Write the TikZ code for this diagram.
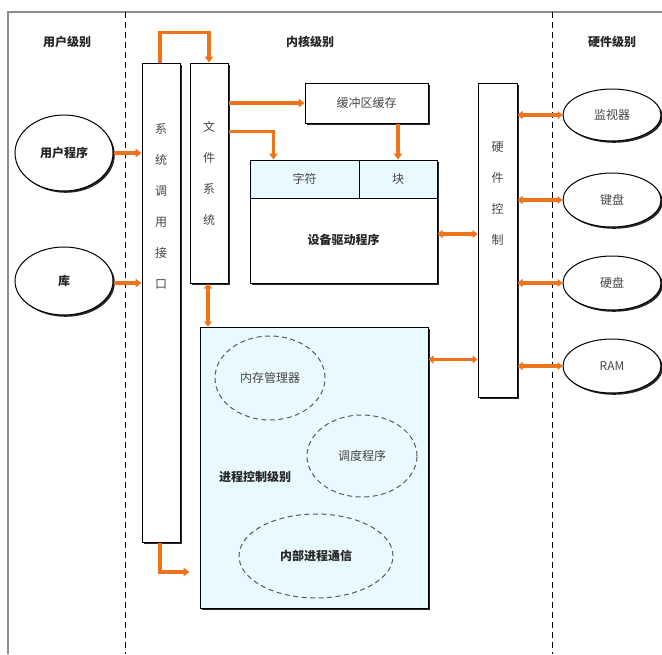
\documentclass[tikz,border=0pt]{standalone}
\usepackage{fontspec}
\setmainfont{Noto Sans CJK SC}
\usetikzlibrary{shapes.geometric,arrows.meta,shadows,calc}
\definecolor{arrc}{RGB}{238,116,28}
\definecolor{cyanbg}{RGB}{232,250,255}
\definecolor{txtg}{RGB}{70,70,70}
\begin{document}
\begin{tikzpicture}[x=1pt,y=-1pt,
  box/.style={draw=black,line width=1pt,fill=white,rectangle,inner sep=0pt,
    drop shadow={shadow xshift=2.2pt,shadow yshift=-2.2pt,fill=black!85,opacity=1}},
  oval/.style={draw=black,line width=1pt,fill=white,ellipse,inner sep=0pt,
    drop shadow={shadow xshift=1.8pt,shadow yshift=-1.8pt,fill=black!85,opacity=1}},
  doval/.style={draw=black!65,dashed,dash pattern=on 5pt off 3.5pt,line width=1pt,ellipse,inner sep=0pt},
  lbl/.style={font=\fontsize{12}{14}\selectfont,text=txtg},
  blbl/.style={font=\fontsize{12}{14}\selectfont\bfseries,text=black!85},
  vtxt/.style={font=\fontsize{12}{31}\selectfont,text=txtg,align=center,inner sep=0pt},
  arr/.style={draw=arrc,line width=3.2pt,-{Triangle[length=6pt,width=8.5pt]}},
  darr/.style={draw=arrc,line width=3.2pt,{Triangle[length=5pt,width=8pt]}-{Triangle[length=5pt,width=8pt]}},
  sep/.style={draw=black,line width=0.9pt,dash pattern=on 6pt off 4pt}
]
\useasboundingbox (0,0) rectangle (662,654);
\fill[white] (0,0) rectangle (662,654);
% frame
\draw[black!45,line width=1.2pt] (8,654) -- (8,12) -- (662,12);
% separators
\draw[sep] (125,12) -- (125,654);
\draw[sep] (552,12) -- (552,654);
% titles
\node[blbl] (t1) at (67,42) {用户级别};
\node[blbl] (t2) at (310,42) {内核级别};
\node[blbl] (t3) at (612,42) {硬件级别};
% user-level ellipses
\node[oval,minimum width=98pt,minimum height=76pt,blbl] (up) at (64,153) {用户程序};
\node[oval,minimum width=98pt,minimum height=68pt,blbl] (lib) at (64,281) {库};
% kernel boxes
\node[box,minimum width=38pt,minimum height=479pt] (sys) at (161,302.5) {};
\node[vtxt] (sysT) at (161,206.5) {系\\统\\调\\用\\接\\口};
\node[box,minimum width=38pt,minimum height=220pt,vtxt] (fs) at (209,173) {文\\件\\系\\统};
\node[box,minimum width=123pt,minimum height=40pt,lbl] (buf) at (366.5,103) {缓冲区缓存};
\node[box,minimum width=187pt,minimum height=123pt] (dev) at (343.5,221.5) {};
\node[draw=black,line width=1pt,fill=cyanbg,minimum width=109pt,minimum height=38pt,inner sep=0pt,lbl] (chr) at (304.5,179) {字符};
\node[draw=black,line width=1pt,fill=cyanbg,minimum width=78pt,minimum height=38pt,inner sep=0pt,lbl] (blk) at (398,179) {块};
\node[blbl] (devT) at (343.5,240) {设备驱动程序};
\node[box,minimum width=39pt,minimum height=314pt] (hw) at (497.5,240) {};
\node[vtxt] (hwT) at (497.5,193.5) {硬\\件\\控\\制};
\node[box,fill=cyanbg,minimum width=228pt,minimum height=281pt] (proc) at (314,467.5) {};
\node[doval,minimum width=110pt,minimum height=84pt,lbl] (mem) at (270,378) {内存管理器};
\node[doval,minimum width=110pt,minimum height=82pt,lbl] (sch) at (362,456) {调度程序};
\node[doval,minimum width=154pt,minimum height=84pt,blbl] (ipc) at (316,556) {内部进程通信};
\node[blbl] (procT) at (255,477) {进程控制级别};
% hardware ellipses
\node[oval,minimum width=98pt,minimum height=52pt,lbl] (mon) at (612,115) {监视器};
\node[oval,minimum width=98pt,minimum height=54pt,lbl] (kbd) at (612,200) {键盘};
\node[oval,minimum width=98pt,minimum height=54pt,lbl] (hd) at (612,283) {硬盘};
\node[oval,minimum width=98pt,minimum height=54pt,lbl] (ram) at (612,366) {RAM};
% helper coordinates
\coordinate (devR) at ($(dev.east)+(0,12.5)$);
\coordinate (procR) at ($(proc.north east)+(0,33)$);
\coordinate (fsR) at ($(fs.north east)+(0,69)$);
\coordinate (devIn) at ($(dev.north west)+(24,0)$);
\coordinate (procIn) at ($(proc.west)+(-10,104.5)$);
% arrows
\draw[arr] ([xshift=-1pt]sys.north) -- ++(0,-30) -| (fs.north);
\draw[arr] (up.east) -- (up.east -| sys.west);
\draw[arr] ([yshift=-2pt]lib.east) -- ([yshift=-2pt]lib.east -| sys.west);
\draw[arr] (fs.east |- buf.west) -- (buf.west);
\draw[arr] (fsR) -| (devIn);
\draw[arr] (blk.north |- buf.south) -- (blk.north);
\draw[darr] (devR) -- (devR -| hw.west);
\draw[darr] (mon.west -| hw.east) -- (mon.west);
\draw[darr] (kbd.west -| hw.east) -- (kbd.west);
\draw[darr] (hd.west -| hw.east) -- (hd.west);
\draw[darr] (ram.west -| hw.east) -- (ram.west);
\draw[darr] (procR) -- (procR -| hw.west);
\draw[darr] ([xshift=-1pt]fs.south) -- ([xshift=-1pt]fs.south |- proc.north);
\draw[arr] ([xshift=-1pt]sys.south) |- (procIn);
\end{tikzpicture}
\end{document}
